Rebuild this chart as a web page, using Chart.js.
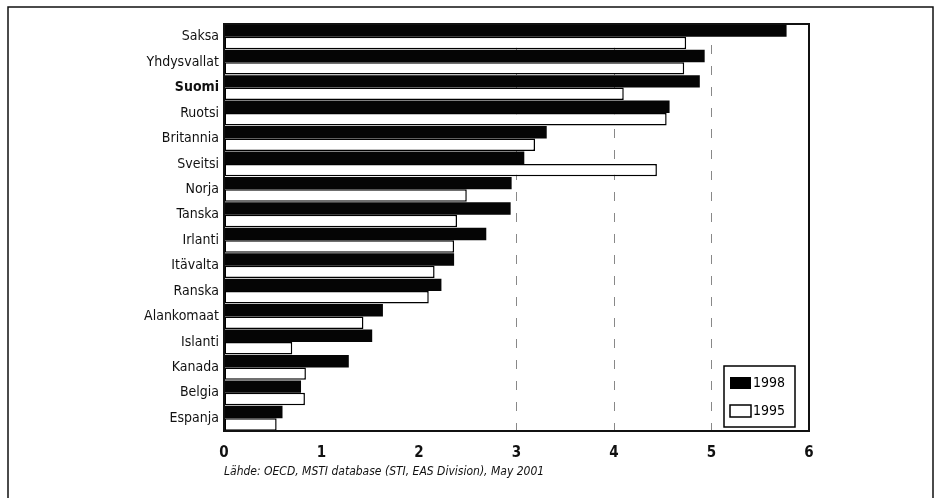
<!DOCTYPE html>
<html>
<head>
<meta charset="utf-8">
<script src="https://cdn.jsdelivr.net/npm/chart.js@4.4.1/dist/chart.umd.min.js"></script>
<style>
  html, body { margin: 0; padding: 0; background: #fff; }
  #wrap { position: relative; width: 939px; height: 498px; }
</style>
</head>
<body>
<div id="wrap"><canvas id="c" width="939" height="498"></canvas></div>
<script>
const categories = ["Saksa", "Yhdysvallat", "Suomi", "Ruotsi", "Britannia", "Sveitsi", "Norja", "Tanska", "Irlanti", "Itävalta", "Ranska", "Alankomaat", "Islanti", "Kanada", "Belgia", "Espanja"];
const series1998 = [5.77, 4.93, 4.88, 4.57, 3.31, 3.08, 2.95, 2.94, 2.69, 2.36, 2.23, 1.63, 1.52, 1.28, 0.79, 0.60];
const series1995 = [4.74, 4.72, 4.10, 4.54, 3.19, 4.44, 2.49, 2.39, 2.36, 2.16, 2.10, 1.43, 0.70, 0.84, 0.83, 0.54];
const seriesLabels = ["1998", "1995"];
const xTicks = [0, 1, 2, 3, 4, 5, 6];
const gridTicks = [3, 4, 5];
const boldCategory = "Suomi";
const sourceText = "Lähde: OECD, MSTI database (STI, EAS Division), May 2001";

const FONT = "'Liberation Sans Narrow', 'DejaVu Sans Condensed', 'Roboto Condensed', sans-serif";

const framePlugin = {
  id: 'frame',
  afterDraw(chart) {
    const ctx = chart.ctx;
    const a = chart.chartArea;
    ctx.save();
    ctx.setLineDash([]);
    // outer frame
    ctx.strokeStyle = '#111';
    ctx.lineWidth = 1.5;
    ctx.beginPath();
    ctx.moveTo(8, 498);
    ctx.lineTo(8, 7);
    ctx.lineTo(933, 7);
    ctx.lineTo(933, 498);
    ctx.stroke();
    // plot box
    ctx.lineWidth = 2;
    ctx.strokeRect(a.left, a.top, a.right - a.left, a.bottom - a.top);
    // legend inside plot area
    const lx = 724, ly = 366, lw = 71, lh = 61;
    ctx.lineWidth = 1.5;
    ctx.strokeStyle = '#000';
    ctx.fillStyle = '#fff';
    ctx.fillRect(lx, ly, lw, lh);
    ctx.strokeRect(lx, ly, lw, lh);
    ctx.font = "14px " + FONT;
    ctx.textBaseline = 'middle';
    ctx.textAlign = 'left';
    chart.data.datasets.forEach((ds, i) => {
      const y = ly + 17 + i * 28;
      if (i === 0) {
        ctx.fillStyle = '#000';
        ctx.fillRect(lx + 6, y - 6, 21, 12);
      } else {
        ctx.fillStyle = '#fff';
        ctx.fillRect(lx + 6, y - 6, 21, 12);
        ctx.strokeRect(lx + 6, y - 6, 21, 12);
      }
      ctx.fillStyle = '#000';
      ctx.fillText(ds.label, lx + 29, y);
    });
    // source note
    ctx.font = "italic 12px " + FONT;
    ctx.fillStyle = '#111';
    ctx.textAlign = 'left';
    ctx.fillText(sourceText, a.left, 472);
    ctx.restore();
  }
};

new Chart(document.getElementById('c'), {
  type: 'bar',
  data: {
    labels: categories,
    datasets: [
      { label: seriesLabels[0], data: series1998, backgroundColor: '#050505', borderColor: '#050505', borderWidth: 0 },
      { label: seriesLabels[1], data: series1995, backgroundColor: '#ffffff', borderColor: '#000000', borderWidth: 1.5, borderSkipped: false }
    ]
  },
  options: {
    indexAxis: 'y',
    responsive: false,
    animation: false,
    devicePixelRatio: 1,
    layout: { padding: { left: 0, top: 24, right: 130, bottom: 0 } },
    datasets: { bar: { categoryPercentage: 0.98, barPercentage: 1.0 } },
    plugins: { legend: { display: false }, tooltip: { enabled: false } },
    scales: {
      x: {
        min: 0, max: 6,
        afterBuildTicks(scale) { scale.ticks = xTicks.map(v => ({ value: v })); },
        afterFit(scale) { scale.height = 67; },
        grid: {
          drawTicks: false,
          color: (c) => (c.tick && gridTicks.includes(c.tick.value)) ? '#888' : 'rgba(0,0,0,0)',
          lineWidth: 1,
        },
        border: { display: true, color: '#000', width: 2, dash: [9, 12] },
        ticks: {
          padding: 13,
          color: '#111',
          font: { family: FONT, size: 15, weight: 'bold' }
        }
      },
      y: {
        afterFit(scale) { scale.width = 224; },
        grid: { display: false, drawTicks: false },
        border: { display: true, color: '#000', width: 2 },
        ticks: {
          padding: 5,
          color: '#111',
          autoSkip: false,
          font: (c) => ({ family: FONT, size: 14, weight: (categories[c.index] === boldCategory) ? 'bold' : 'normal' })
        }
      }
    }
  },
  plugins: [framePlugin]
});
</script>
</body>
</html>
